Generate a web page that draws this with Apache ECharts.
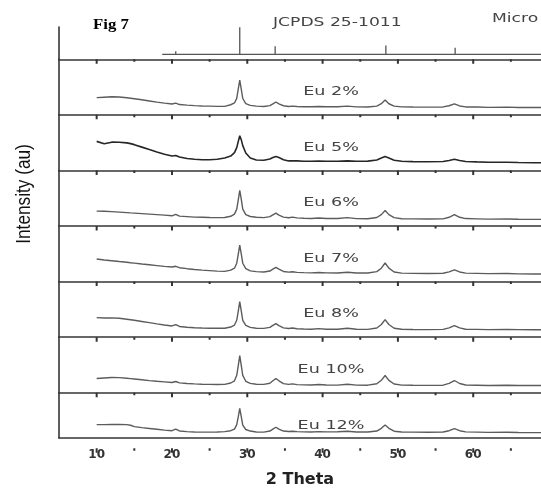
<!DOCTYPE html>
<html lang="en">
<head>
    <meta charset="UTF-8">
    <title>Fig 7</title>
    <script src="https://cdn.jsdelivr.net/npm/echarts@6.0.0/dist/echarts.min.js"></script>
    <style>
        * {
            margin: 0;
            padding: 0
        }

        html, body {
            width: 100%;
            height: 100%;
            background: #fff;
        }

        #main {
            width: 541px;
            height: 489px;
        }
    </style>
</head>
<body>
<div id="main"></div>
<script type="text/javascript">
    /*-------------------- data --------------------*/
    // 2 theta sample points shared by all the measured patterns
    var twoTheta = [
        10, 11, 12, 13, 14, 14.5, 15, 16, 17, 18,
        19, 20, 20.5, 21, 22, 23, 24, 25, 26, 27,
        27.8, 28.3, 28.6, 28.8, 29.0, 29.2, 29.4, 29.8, 30.4, 31.2,
        32.2, 33.0, 33.4, 33.8, 34.2, 34.8, 35.5, 36.0, 36.6, 37.5,
        38.5, 39.5, 40.5, 42, 43.3, 44.5, 46, 47.2, 47.8, 48.3,
        48.8, 49.5, 50.5, 52, 54, 56, 56.8, 57.5, 58.2, 59,
        60.5, 62, 64.5, 66, 68, 69
    ];

    var eu2 = [
        17.4, 17.8, 18.2, 18, 17.2, 16.8, 16.3, 15.2, 14, 12.8,
        11.8, 11, 11.8, 10.4, 9.8, 9.3, 9, 8.8, 8.6, 8.6,
        10.2, 12, 16.6, 26, 35, 26, 16.5, 11.4, 9.6, 8.8,
        8.5, 9.3, 11, 13, 11, 9.2, 8.5, 8.8, 8.4, 8.2,
        8.2, 8.5, 8.2, 8.2, 8.8, 8.1, 8.0, 8.8, 11.3, 15,
        11.2, 8.8, 8.1, 7.9, 7.8, 8, 9.2, 11, 9, 8,
        7.9, 7.6, 7.8, 7.5, 7.4, 7.4
    ];
    var eu5 = [
        29.3, 26.9, 28.5, 28.4, 27.8, 27, 26, 23.5, 21, 18.6,
        16.3, 14.5, 15, 13.5, 12, 11.2, 10.8, 10.8, 11.2, 12.5,
        14.5, 18, 23, 29, 35, 31, 25, 17.5, 12.5, 10.5,
        10.3, 11.5, 13, 14, 13, 10.8, 9.6, 9.8, 9.6, 9.3,
        9.2, 9.5, 9.2, 9.2, 9.6, 9.2, 9.4, 10.5, 12.5, 14,
        12.5, 10.2, 9.2, 8.9, 8.7, 9, 10, 11.2, 10, 9,
        8.6, 8.3, 8.2, 8, 7.8, 7.8
    ];
    var eu6 = [
        15, 14.8, 14.5, 14, 13.5, 13.2, 13, 12.5, 12, 11.5,
        11, 10.3, 11.8, 10, 9.5, 9, 8.8, 8.6, 8.5, 8.6,
        9.8, 12, 17, 26, 36, 27, 17, 11.5, 9.6, 8.8,
        8.5, 9.5, 11.3, 13, 11, 9, 8.3, 8.9, 8.2, 7.8,
        7.6, 8, 7.6, 7.5, 8.4, 7.4, 7.3, 8.6, 11.5, 15.7,
        11.5, 8.4, 7.3, 7.2, 7, 7.2, 8.8, 11.5, 8.8, 7.5,
        7.2, 6.9, 7, 6.8, 6.7, 6.7
    ];
    var eu7 = [
        22.7, 21.8, 21, 20.2, 19.5, 19, 18.6, 17.7, 16.9, 16.1,
        15.3, 14.7, 15.4, 14, 13, 12.2, 11.5, 11, 10.5, 10.3,
        11.5, 13.5, 18.5, 27.5, 36.7, 28, 18.5, 13, 10.8, 10,
        9.7, 10.6, 12.5, 14.4, 12.5, 10.2, 9.5, 9.9, 9.3, 9,
        8.8, 9.2, 8.8, 8.7, 9.4, 8.6, 8.6, 10, 13.5, 18.7,
        13.5, 9.6, 8.5, 8.3, 8.2, 8.4, 9.8, 11.8, 9.7, 8.5,
        8.3, 8, 8.2, 7.8, 7.7, 7.7
    ];
    var eu8 = [
        19.7, 19.3, 19.4, 19, 18, 17.5, 17, 15.8, 14.6, 13.4,
        12.3, 11.3, 12.7, 10.8, 10, 9.5, 9.2, 9, 8.9, 9,
        10.2, 12.2, 17, 26, 35.7, 26.5, 17, 11.8, 9.8, 9,
        8.8, 9.8, 11.8, 13.7, 11.6, 9.4, 8.7, 9.2, 8.5, 8.2,
        8, 8.6, 8, 7.9, 8.9, 7.9, 7.8, 9.2, 12.8, 17.7,
        12.8, 9, 7.9, 7.7, 7.6, 7.8, 9.4, 11.7, 9.3, 8,
        7.8, 7.6, 7.8, 7.6, 7.5, 7.5
    ];
    var eu10 = [
        14.3, 14.8, 15.3, 15.2, 14.6, 14.2, 13.8, 13, 12.2, 11.5,
        10.9, 10.3, 11.3, 9.9, 9.3, 8.9, 8.6, 8.4, 8.3, 8.4,
        9.8, 12, 17.5, 27, 37.3, 27.5, 17.5, 11.5, 9.4, 8.6,
        8.4, 9.5, 12, 14.3, 12, 9.2, 8.4, 8.9, 8.2, 7.9,
        7.8, 8.3, 7.8, 7.7, 8.6, 7.7, 7.6, 9, 12.5, 17.3,
        12.5, 8.8, 7.7, 7.5, 7.4, 7.6, 9.4, 12.3, 9.3, 7.8,
        7.6, 7.3, 7.5, 7.3, 7.3, 7.3
    ];
    var eu12 = [
        16.6, 16.6, 16.7, 16.7, 16.6, 15.8, 14, 12.8, 11.8, 10.8,
        9.8, 9, 11, 8.7, 7.9, 7.4, 7.3, 7.3, 7.5, 7.9,
        9, 11, 16.5, 26, 36.6, 26.5, 16, 10.5, 8.6, 7.4,
        7.3, 8.6, 11, 13.3, 11, 8.6, 8, 8.4, 7.9, 7.6,
        7.5, 7.9, 7.6, 7.7, 8.3, 7.5, 7.4, 8.6, 12, 16,
        12, 8.4, 7.5, 7.3, 7.2, 7.4, 9, 11.6, 9, 7.6,
        7.3, 7, 7.1, 6.8, 6.7, 6.6
    ];

    var sampleNames = ['Eu 2%', 'Eu 5%', 'Eu 6%', 'Eu 7%', 'Eu 8%', 'Eu 10%', 'Eu 12%'];
    var samples = [eu2, eu5, eu6, eu7, eu8, eu10, eu12];

    // JCPDS 25-1011 reference lines (relative intensity)
    var stickStart = 18.7;
    var stickPos = [20.5, 29.0, 33.7, 36.0, 39.4, 43.3, 48.4, 50.5, 57.6, 60.7, 64.5];
    var stickHeight = [11, 100, 30, 4, 4, 6, 33, 3, 24, 4, 3];

    // x axis: long ticks + labels every 10 degrees, short ticks in between
    var X_MIN = 5, X_MAX = 69;
    var majorTicks = [10, 20, 30, 40, 50, 60];
    var minorTicks = [15, 25, 35, 45, 55, 65];

    /*-------------------- layout --------------------*/
    var LEFT = 59;
    var REF_TOP = 27;
    var REF_BOTTOM = 59.3;
    var PANEL_H = 55.57;
    var PANEL_MAX = 56;          // y range of a sample panel, about 1 unit per pixel
    var STRIP_MAX = 8;           // tick strips: 8 px tall, 1 unit per pixel
    var AXIS_COLOR = '#363636';
    var TICK_COLOR = '#333';

    // panel 0 = JCPDS sticks, panels 1..7 = samples
    var grids = [{left: LEFT, right: 0, top: REF_TOP, height: REF_BOTTOM - REF_TOP}];
    for (var i = 0; i < samples.length; i++) {
        grids.push({left: LEFT, right: 0, top: REF_BOTTOM + i * PANEL_H, height: PANEL_H});
    }
    var nPanels = grids.length;
    var last = nPanels - 1;
    // one thin strip under every panel's axis line, only holding that axis' ticks
    for (var s = 0; s < nPanels; s++) {
        grids.push({left: LEFT, right: 0, top: REF_BOTTOM + s * PANEL_H, height: STRIP_MAX});
    }

    var xAxes = [], yAxes = [];
    grids.forEach(function (g, gi) {
        var strip = gi >= nPanels;
        xAxes.push({
            gridIndex: gi, type: 'value', min: X_MIN, max: X_MAX, position: 'bottom',
            show: !strip,
            name: gi === last ? '2 Theta' : '',
            nameLocation: 'middle', nameGap: 34,
            nameTextStyle: {fontFamily: 'DejaVu Sans', fontWeight: 'bold', fontSize: 16, color: '#222'},
            axisLine: {show: true, onZero: false, lineStyle: {color: AXIS_COLOR, width: 1.6}},
            axisTick: {show: false},
            axisLabel: {show: gi === last, customValues: majorTicks, margin: 11,
                fontFamily: 'DejaVu Sans', fontWeight: 'bold', fontSize: 12, color: '#333'},
            splitLine: {show: false}
        });
        yAxes.push({
            gridIndex: gi, type: 'value',
            min: gi === 0 ? -18.5 : 0,
            max: gi === 0 ? 101 : (strip ? STRIP_MAX : PANEL_MAX),
            show: !strip,
            axisLine: {show: true, onZero: false, lineStyle: {color: AXIS_COLOR, width: 1.6}},
            axisTick: {show: false},
            axisLabel: {show: false},
            splitLine: {show: false}
        });
    });

    // reference stick pattern
    var stickData = [[stickStart, 0]];
    stickPos.forEach(function (p, k) {
        stickData.push([p, 0], [p, stickHeight[k]], [p, 0]);
    });
    stickData.push([X_MAX, 0]);

    var series = [{
        name: 'JCPDS 25-1011', type: 'line', xAxisIndex: 0, yAxisIndex: 0,
        data: stickData, showSymbol: false, silent: true,
        lineStyle: {color: '#555', width: 1.3}
    }];
    samples.forEach(function (arr, k) {
        series.push({
            name: sampleNames[k], type: 'line',
            xAxisIndex: k + 1, yAxisIndex: k + 1,
            data: twoTheta.map(function (t, j) { return [t, arr[j]]; }),
            showSymbol: false, silent: true,
            lineStyle: {color: k === 1 ? '#262626' : '#5c5c5c', width: k === 1 ? 1.6 : 1.4}
        });
    });

    // ticks hang down from each axis line: short broken segments in the strip below it
    function tickSegments(values, edge, len) {
        var out = [];
        values.forEach(function (t) {
            out.push([t, edge], [t, edge - len], [t, '-']);
        });
        return out;
    }
    for (var si = nPanels; si < grids.length; si++) {
        series.push({
            type: 'line', xAxisIndex: si, yAxisIndex: si, silent: true,
            showSymbol: false, connectNulls: false,
            data: tickSegments(majorTicks, STRIP_MAX, 4.5)
                .concat(tickSegments(minorTicks, STRIP_MAX, 2.5)),
            lineStyle: {color: TICK_COLOR, width: 2, cap: 'butt'}
        });
    }

    /*-------------------- texts --------------------*/
    var graphics = [
        {type: 'text', x: 93, y: 25, scaleX: 1.12,
            style: {text: 'Fig 7', font: 'bold 15px "Liberation Serif"', fill: '#000', textVerticalAlign: 'middle'}},
        {type: 'text', x: 273, y: 22.5, scaleX: 1.32,
            style: {text: 'JCPDS 25-1011', font: '13px "DejaVu Sans"', fill: '#444', textVerticalAlign: 'middle'}},
        {type: 'text', x: 492, y: 18.5, scaleX: 1.32,
            style: {text: 'Micro', font: '13px "DejaVu Sans"', fill: '#444', textVerticalAlign: 'middle'}},
        {type: 'text', x: 24, y: 194, rotation: Math.PI / 2, scaleX: 0.82,
            style: {text: 'Intensity (au)', font: '21px "Liberation Sans"', fill: '#111',
                textAlign: 'center', textVerticalAlign: 'middle'}}
    ];
    sampleNames.forEach(function (n, k) {
        graphics.push({
            type: 'text', x: 331, y: REF_BOTTOM + k * PANEL_H + 32.5, scaleX: 1.35,
            style: {text: n, font: '13px "DejaVu Sans"', fill: '#444',
                textAlign: 'center', textVerticalAlign: 'middle'}
        });
    });

    var myChart = echarts.init(document.getElementById('main'));
    myChart.setOption({
        backgroundColor: '#fff',
        animation: false,
        grid: grids,
        xAxis: xAxes,
        yAxis: yAxes,
        series: series,
        graphic: graphics
    });
</script>

</body>
</html>
